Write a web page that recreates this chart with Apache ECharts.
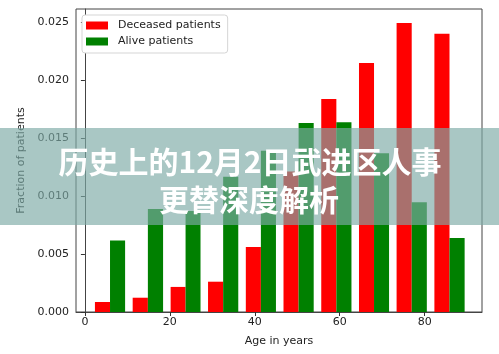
<!DOCTYPE html>
<html>
<head>
<meta charset="utf-8">
<title>Age histogram</title>
<script src="https://cdn.jsdelivr.net/npm/echarts@6/dist/echarts.min.js"></script>
<style>
  html, body { margin: 0; padding: 0; background: #fff; }
  #chart { width: 499px; height: 354px; }
</style>
</head>
<body>
<div id="chart"></div>
<script>
// bin edges (years) and fraction of patients per bin
var binEdges = [1.47, 10.35, 19.3, 28.1, 37.0, 45.87, 54.76, 63.65, 72.5, 81.4, 90.3];
var deceased = [0.00086, 0.00123, 0.00216, 0.00261, 0.0056, 0.0121, 0.01834, 0.02144, 0.02489, 0.02397];
var alive = [0.00615, 0.00888, 0.0087, 0.01164, 0.01388, 0.01627, 0.01635, 0.01368, 0.00946, 0.00638];
var xTicks = [0, 20, 40, 60, 80];
var yTicks = [0, 0.005, 0.010, 0.015, 0.020, 0.025];
var titleLines = ['历史上的12月2日武进区人事', '更替深度解析'];

var font = 'DejaVu Sans';

function toBins(values) {
	var out = [];
	for (var i = 0; i < values.length; i++) {
		out.push([binEdges[i], binEdges[i + 1], values[i]]);
	}
	return out;
}

/* each bin: 80% filled, first half red, second half green */
function barRenderer(slot, color) {
	return function (params, api) {
		var lo = api.value(0);
		var w = api.value(1) - lo;
		var x0 = lo + w * (0.1 + slot * 0.4);
		var x1 = x0 + w * 0.4;
		var p0 = api.coord([x0, api.value(2)]);
		var p1 = api.coord([x1, 0]);
		return {
			type: 'rect',
			shape: { x: p0[0], y: p0[1], width: p1[0] - p0[0], height: p1[1] - p0[1] },
			style: { fill: color, stroke: 'none', lineWidth: 0 }
		};
	};
}

var chart = echarts.init(document.getElementById('chart'), null, { renderer: 'canvas' });
var option = {
	animation: false,
	backgroundColor: '#fff',
	grid: {
		left: 76, right: 17, top: 9, bottom: 42,
		show: true, borderColor: '#444', borderWidth: 1, backgroundColor: 'transparent',
		outerBoundsMode: 'none'
	},
	legend: {
		orient: 'vertical',
		left: 82, top: 15,
		padding: [5, 7, 6, 4],
		itemGap: 5,
		itemWidth: 22, itemHeight: 8,
		backgroundColor: '#fff',
		borderColor: '#d5d5d5', borderWidth: 1, borderRadius: 3,
		textStyle: { fontFamily: font, fontSize: 11, color: '#222', padding: [0, 0, 0, 5] },
		data: [
			{ name: 'Deceased patients', icon: 'rect' },
			{ name: 'Alive patients', icon: 'rect' }
		]
	},
	xAxis: {
		type: 'value',
		min: -2.1, max: 93.5,
		name: 'Age in years',
		nameLocation: 'middle',
		nameGap: 24,
		nameTextStyle: { fontFamily: font, fontSize: 11, color: '#222' },
		splitLine: { show: false },
		axisLine: { show: true, lineStyle: { color: '#444' } },
		axisTick: { show: true, length: 4, customValues: xTicks, lineStyle: { color: '#333' } },
		axisLabel: { customValues: xTicks, fontFamily: font, fontSize: 11, color: '#222', margin: 5 }
	},
	yAxis: {
		type: 'value',
		min: 0, max: 0.0261,
		name: 'Fraction of patients',
		nameLocation: 'middle',
		nameGap: 44,
		nameTextStyle: { fontFamily: font, fontSize: 11, color: '#222' },
		splitLine: { show: false },
		axisLine: { show: true, lineStyle: { color: '#444' } },
		axisTick: { show: true, length: 4, customValues: yTicks, lineStyle: { color: '#333' } },
		axisLabel: {
			customValues: yTicks, fontFamily: font, fontSize: 11, color: '#222', margin: 7,
			formatter: function (v) { return v.toFixed(3); }
		}
	},
	series: [{
		name: 'Deceased patients',
		type: 'custom',
		renderItem: barRenderer(0, '#ff0000'),
		itemStyle: { color: '#ff0000', borderWidth: 0 },
		encode: { x: [0, 1], y: 2 },
		data: toBins(deceased)
	}, {
		name: 'Alive patients',
		type: 'custom',
		renderItem: barRenderer(1, '#008000'),
		itemStyle: { color: '#008000', borderWidth: 0 },
		encode: { x: [0, 1], y: 2 },
		data: toBins(alive)
	}],
	graphic: [{
		type: 'rect',
		z: 100,
		shape: { x: 0, y: 128, width: 499, height: 97 },
		style: { fill: 'rgba(125,170,165,0.66)' }
	}, {
		type: 'text',
		z: 101,
		x: 250, y: 162,
		style: {
			text: titleLines[0], fill: '#fff',
			font: 'bold 30px "Noto Sans CJK SC"',
			align: 'center', verticalAlign: 'middle'
		}
	}, {
		type: 'text',
		z: 101,
		x: 249, y: 200,
		style: {
			text: titleLines[1], fill: '#fff',
			font: 'bold 30px "Noto Sans CJK SC"',
			align: 'center', verticalAlign: 'middle'
		}
	}]
};
chart.setOption(option);
</script>
</body>
</html>
